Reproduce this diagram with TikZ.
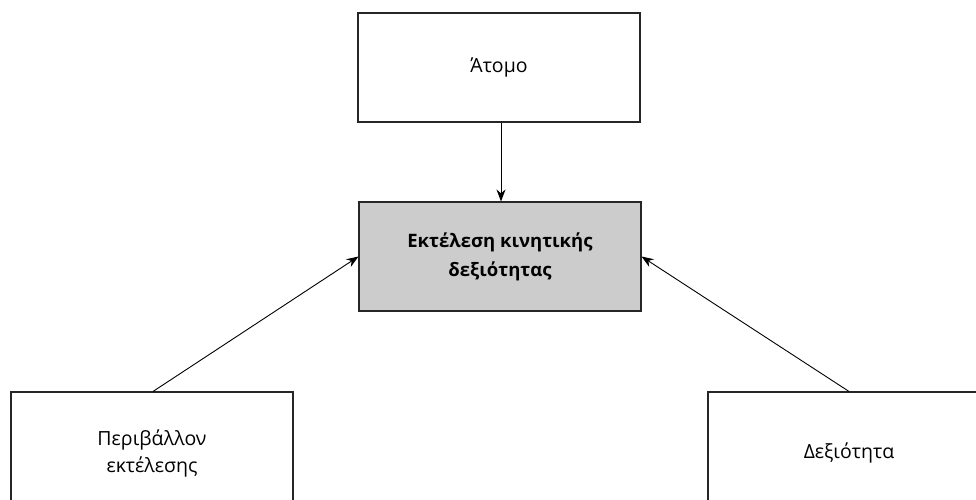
\documentclass[tikz,border=0pt]{standalone}
\usepackage{fontspec}
\setmainfont{Open Sans}
\usetikzlibrary{arrows.meta}
\begin{document}
\begin{tikzpicture}[x=1pt,y=-1pt,
  box/.style={draw=black!85,line width=1.1pt,minimum width=282pt,align=center,font=\fontsize{19.5}{27}\selectfont,inner sep=0pt},
  arr/.style={-{Stealth[length=12pt,width=9pt]},line width=0.9pt}]
\useasboundingbox (0,0) rectangle (976,499);
\clip (0,0) rectangle (976,499);
\node[box,minimum height=109pt] (atomo) at (499,67.5) {Άτομο};
\node[box,fill=black!20,minimum height=109pt,font=\bfseries\fontsize{18.5}{29}\selectfont] (center) at (500,256.5) {Εκτέλεση κινητικής\\δεξιότητας};
\node[box,minimum height=122pt] (env) at (152,453) {Περιβάλλον\\εκτέλεσης};
\node[box,minimum height=122pt] (dex) at (849,453) {Δεξιότητα};
\draw[arr] (atomo.south -| 501,0) -- (center.north -| 501,0);
\draw[arr] (env.north -| 153,0) -- (center.west);
\draw[arr] (dex.north -| 849,0) -- (center.east);
\end{tikzpicture}
\end{document}
